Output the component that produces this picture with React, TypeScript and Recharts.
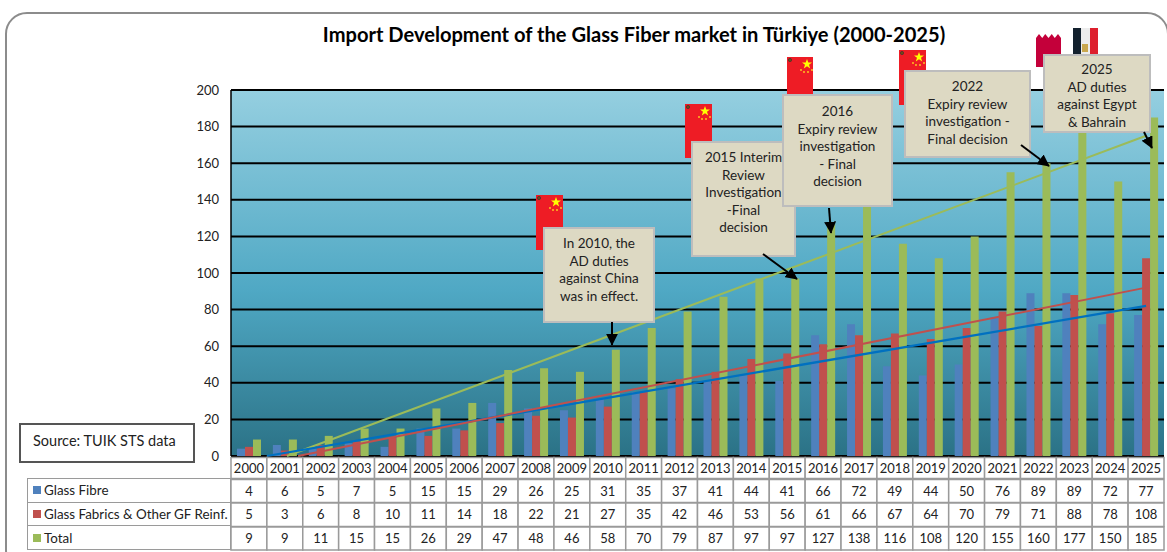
import React from "react";
import { ComposedChart, Bar, XAxis, YAxis, CartesianGrid, ReferenceLine } from "recharts";

const years = [2000,2001,2002,2003,2004,2005,2006,2007,2008,2009,2010,2011,2012,2013,2014,2015,2016,2017,2018,2019,2020,2021,2022,2023,2024,2025];
const glassFibre = [4,6,5,7,5,15,15,29,26,25,31,35,37,41,44,41,66,72,49,44,50,76,89,89,72,77];
const fabrics = [5,3,6,8,10,11,14,18,22,21,27,35,42,46,53,56,61,66,67,64,70,79,71,88,78,108];
const total = [9,9,11,15,15,26,29,47,48,46,58,70,79,87,97,97,127,138,116,108,120,155,160,177,150,185];
const yTicks = [0,20,40,60,80,100,120,140,160,180,200];
const seriesNames = ["Glass Fibre", "Glass Fabrics & Other GF Reinf.", "Total"];
const seriesColors = ["#4F81BD", "#C0504D", "#9BBB59"];
const trendGreen = [{ x: 2001.06, y: 0 }, { x: 2025, y: 175 }];
const trendRed = [{ x: 2001.37, y: 0 }, { x: 2025, y: 92 }];
const trendBlue = [{ x: 2000.5, y: 0 }, { x: 2025, y: 82 }];

const data = years.map((year, i) => ({ year, glassFibre: glassFibre[i], fabrics: fabrics[i], total: total[i] }));
const FONT = "Lato, 'Open Sans', sans-serif";
const GRID = "#9a9a9a";

function TableTick(props: any) {
  const { x, payload } = props;
  const i = years.indexOf(payload.value);
  const w = 35.9;
  const rows = [years, glassFibre, fabrics, total];
  const ys = [457.5, 479.5, 503, 527];
  const hs = [21, 23, 23.5, 23];
  return (
    <g>
      {rows.map((r, k) => (
        <g key={k}>
          <rect x={x - w / 2} y={ys[k]} width={w} height={hs[k]} fill="#fff" stroke={GRID} strokeWidth={1.5} />
          <text x={x} y={ys[k] + hs[k] / 2 + 4.5} textAnchor="middle" fontSize={13} fontFamily={FONT} fill="#222">{r[i]}</text>
        </g>
      ))}
    </g>
  );
}

function ChinaFlag({ x, y, w, h }: any) {
  return (
    <div style={{ position: "absolute", left: x, top: y, width: w, height: h, background: "#EE1C25" }}>
      <svg width={w} height={h} style={{ display: "block" }}>
        <circle cx={3} cy={3} r={1.6} fill="#7a4a10" stroke="#333" strokeWidth={0.7} />
        <polygon points="20,2 21.3,5.6 25,5.6 22,7.8 23.2,11.4 20,9.2 16.8,11.4 18,7.8 15,5.6 18.7,5.6" fill="#FFFF00" />
        {[[14,13],[17,15],[21,15],[25,13]].map((p, i) => <circle key={i} cx={p[0]} cy={p[1]} r={0.9} fill="#FFD21E" />)}
      </svg>
    </div>
  );
}

function Note({ x, y, w, h, lines, pt = 6 }: any) {
  return (
    <div style={{ position: "absolute", left: x, top: y, width: w, height: h, boxSizing: "border-box", background: "#DDD9C3", border: "2px solid #BDBDBD", textAlign: "center", fontFamily: FONT, fontSize: 13.5, lineHeight: "17.6px", color: "#222", paddingTop: pt }}>
      {lines.map((l: string, i: number) => <div key={i}>{l}</div>)}
    </div>
  );
}

const arrows = [
  [612, 322, 612, 345],
  [763, 254, 797, 279],
  [829, 208, 831, 233],
  [1021, 145, 1049, 166],
  [1144, 132, 1152, 148],
];

export default function App() {
  return (
    <div style={{ position: "absolute", left: 0, top: 0, width: 1167, height: 552, overflow: "hidden", background: "#fff" }}>
      <div style={{ position: "absolute", left: 5, top: 12, width: 1164, height: 560, boxSizing: "border-box", border: "2px solid #8c8c8c", borderRadius: 22 }} />
      <div style={{ position: "absolute", left: 0, top: 22, width: 1268, textAlign: "center", fontFamily: FONT, fontWeight: 700, fontSize: 20.1, color: "#000" }}>
        Import Development of the Glass Fiber market in Türkiye (2000-2025)
      </div>
      <div style={{ position: "absolute", left: 0, top: 0 }}>
        <ComposedChart width={1167} height={552} data={data} margin={{ top: 90, right: 3, bottom: 0, left: 191 }} barGap={0} barSize={8}>
          <defs>
            <linearGradient id="plotBg" x1="0" y1="0" x2="0" y2="1">
              <stop offset="0" stopColor="#95CFE0" />
              <stop offset="0.55" stopColor="#4FA8C4" />
              <stop offset="1" stopColor="#2B7286" />
            </linearGradient>
          </defs>
          <CartesianGrid horizontal vertical={false} stroke="#000" strokeWidth={2} fill="url(#plotBg)" strokeOpacity={1} syncWithTicks />
          <XAxis dataKey="year" type="number" scale="linear" domain={[1999.5, 2025.5]} ticks={years} interval={0} height={96} axisLine={false} tickLine={false} tick={<TableTick />} />
          <YAxis width={40} domain={[0, 200]} ticks={yTicks} interval={0} tickLine={false} axisLine={{ stroke: "#000", strokeWidth: 1.5 }} tick={{ fontSize: 13, fontFamily: FONT, fill: "#222" }} tickMargin={6} />
          <Bar dataKey="glassFibre" fill={seriesColors[0]} isAnimationActive={false} />
          <Bar dataKey="fabrics" fill={seriesColors[1]} isAnimationActive={false} />
          <Bar dataKey="total" fill={seriesColors[2]} isAnimationActive={false} />
          <ReferenceLine segment={trendGreen} stroke="#9BBB59" strokeWidth={2} />
          <ReferenceLine segment={trendBlue} stroke="#0070C0" strokeWidth={2.25} />
          <ReferenceLine segment={trendRed} stroke="#C0504D" strokeWidth={2} />
        </ComposedChart>
      </div>

      {/* legend column of the data table */}
      <div style={{ position: "absolute", left: 27, top: 478, width: 204, height: 72, boxSizing: "border-box", border: `1.5px solid ${GRID}`, background: "#fff", fontFamily: FONT, fontSize: 13.4, color: "#222" }}>
        {seriesNames.map((n, i) => (
          <div key={n} style={{ height: 23.5, boxSizing: "border-box", borderBottom: i < 2 ? `1.5px solid ${GRID}` : "none", display: "flex", alignItems: "center", paddingLeft: 5, whiteSpace: "nowrap" }}>
            <span style={{ display: "inline-block", width: 8, height: 8, background: seriesColors[i], marginRight: 3 }} />{n}
          </div>
        ))}
      </div>
      <div style={{ position: "absolute", left: 19, top: 423, width: 176, height: 40, boxSizing: "border-box", border: "2px solid #555", background: "#fff", fontFamily: FONT, fontSize: 14.5, color: "#222", paddingLeft: 12, lineHeight: "32px" }}>
        Source: TUIK STS data
      </div>

      <ChinaFlag x={536} y={195} w={27} h={55} />
      <ChinaFlag x={685} y={104} w={27} h={54} />
      <ChinaFlag x={787} y={57} w={26} h={54} />
      <ChinaFlag x={899} y={50} w={27} h={55} />
      <div style={{ position: "absolute", left: 1036, top: 34, width: 25, height: 33, background: "#C4003A", clipPath: "polygon(0 12%,12% 0,25% 12%,37% 0,50% 12%,63% 0,75% 12%,88% 0,100% 12%,100% 100%,0 100%)" }} />
      <div style={{ position: "absolute", left: 1073, top: 28, width: 25, height: 40, display: "flex" }}>
        <div style={{ flex: 1, background: "#13212E" }} />
        <div style={{ flex: 1, background: "#ECECEC", position: "relative" }}>
          <div style={{ position: "absolute", left: 1, top: 16, width: 6, height: 8, background: "#C9A74E" }} />
        </div>
        <div style={{ flex: 1, background: "#DD1F2D" }} />
      </div>

      <Note x={543} y={227} w={112} h={96} lines={["In 2010, the", "AD duties", "against China", "was in effect."]} />
      <Note x={691} y={141} w={105} h={116} lines={["2015 Interim", "Review", "Investigation", "-Final", "decision"]} />
      <Note x={782} y={94} w={111} h={113} lines={["2016", "Expiry review", "investigation", "- Final", "decision"]} pt={7} />
      <Note x={904} y={70} w={127} h={88} lines={["2022", "Expiry review", "investigation -", "Final decision"]} pt={6} />
      <Note x={1043} y={54} w={108} h={79} lines={["2025", "AD duties", "against Egypt", "& Bahrain"]} pt={5} />

      <svg width={1167} height={552} style={{ position: "absolute", left: 0, top: 0, pointerEvents: "none" }}>
        <defs>
          <marker id="ah" markerWidth="6" markerHeight="6" refX="5.6" refY="3" orient="auto" markerUnits="strokeWidth">
            <path d="M0,0 L6,3 L0,6 Z" fill="#000" />
          </marker>
        </defs>
        {arrows.map((a, i) => <line key={i} x1={a[0]} y1={a[1]} x2={a[2]} y2={a[3]} stroke="#000" strokeWidth={2} markerEnd="url(#ah)" />)}
      </svg>
    </div>
  );
}
